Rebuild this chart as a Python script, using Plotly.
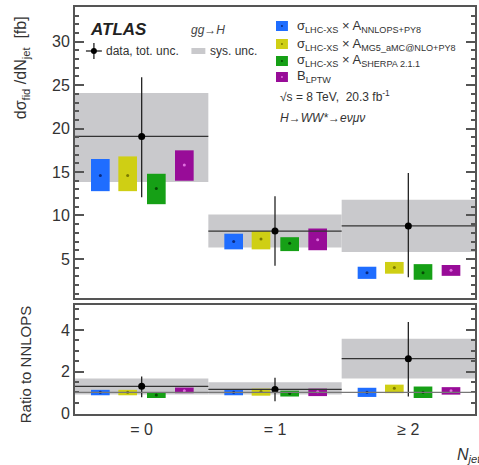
import plotly.graph_objects as go

# ---------------- data ----------------
bins = ["= 0", "= 1", "\u2265 2"]
bin_pos = [0.5, 1.5, 2.5]

data_val = [19.1, 8.2, 8.8]
data_err_up = [6.8, 4.0, 6.1]
data_err_dn = [7.0, 4.0, 5.9]
sys_lo = [13.85, 6.3, 5.8]
sys_hi = [24.1, 10.1, 11.8]

nnlops_lo = [12.8, 6.1, 2.7]
nnlops_c = [14.6, 7.0, 3.4]
nnlops_hi = [16.5, 7.9, 4.1]
mg5_lo = [12.8, 6.1, 3.3]
mg5_c = [14.6, 7.3, 4.0]
mg5_hi = [16.8, 8.2, 4.65]
sherpa_lo = [11.3, 5.9, 2.6]
sherpa_c = [13.1, 6.8, 3.4]
sherpa_hi = [14.8, 7.5, 4.4]
blptw_lo = [14.0, 6.0, 3.05]
blptw_c = [15.8, 7.2, 3.7]
blptw_hi = [17.5, 8.5, 4.3]

r_data_val = [1.29, 1.14, 2.62]
r_data_err_up = [0.47, 0.56, 1.76]
r_data_err_dn = [0.53, 0.57, 1.82]
r_sys_lo = [0.9, 0.9, 1.67]
r_sys_hi = [1.67, 1.48, 3.57]

r_nnlops_lo = [0.86, 0.86, 0.78]
r_nnlops_c = [1.0, 1.0, 1.0]
r_nnlops_hi = [1.12, 1.12, 1.22]
r_mg5_lo = [0.86, 0.84, 0.96]
r_mg5_c = [1.0, 1.04, 1.2]
r_mg5_hi = [1.12, 1.18, 1.37]
r_sherpa_lo = [0.73, 0.8, 0.73]
r_sherpa_c = [0.87, 0.95, 1.0]
r_sherpa_hi = [0.99, 1.08, 1.28]
r_blptw_lo = [0.96, 0.82, 0.89]
r_blptw_c = [1.08, 1.03, 1.08]
r_blptw_hi = [1.23, 1.18, 1.25]

ratio_ref = 1.0

# ---------------- styling ----------------
FONT = "Liberation Sans, Arial, sans-serif"
BLUE, BLUE_D = "#1f6dff", "#0a2a80"
YEL, YEL_D = "#cfcf14", "#7a7a00"
GRN, GRN_D = "#16a016", "#064a06"
PUR, PUR_D = "#980c98", "#e070e0"
GRAY = "#c9c9cc"
AX = "#555555"

preds = [
    (BLUE, BLUE_D, -0.31, nnlops_lo, nnlops_c, nnlops_hi, r_nnlops_lo, r_nnlops_c, r_nnlops_hi),
    (YEL, YEL_D, -0.105, mg5_lo, mg5_c, mg5_hi, r_mg5_lo, r_mg5_c, r_mg5_hi),
    (GRN, GRN_D, 0.11, sherpa_lo, sherpa_c, sherpa_hi, r_sherpa_lo, r_sherpa_c, r_sherpa_hi),
    (PUR, PUR_D, 0.32, blptw_lo, blptw_c, blptw_hi, r_blptw_lo, r_blptw_c, r_blptw_hi),
]
BOXW = 0.14

fig = go.Figure()

def add_panel(xa, ya, s_lo, s_hi, d_val, d_up, d_dn, ratio):
    fig.add_trace(go.Bar(x=bin_pos, base=s_lo, y=[h - l for l, h in zip(s_lo, s_hi)],
                         width=1.0, marker=dict(color=GRAY, line=dict(width=0)),
                         xaxis=xa, yaxis=ya, showlegend=False, hoverinfo="skip"))
    for col, dcol, off, lo, c, hi, rlo, rc, rhi in preds:
        L, C, H = (rlo, rc, rhi) if ratio else (lo, c, hi)
        xs = [b + off for b in bin_pos]
        fig.add_trace(go.Bar(x=xs, base=L, y=[h - l for l, h in zip(L, H)], width=BOXW,
                             marker=dict(color=col, line=dict(width=0)),
                             xaxis=xa, yaxis=ya, showlegend=False))
        fig.add_trace(go.Scatter(x=xs, y=C, mode="markers",
                                 marker=dict(color=dcol, size=3),
                                 xaxis=xa, yaxis=ya, showlegend=False))
    fig.add_trace(go.Scatter(x=bin_pos, y=d_val, mode="markers",
                             marker=dict(color="black", size=7),
                             error_y=dict(type="data", symmetric=False, array=d_up, arrayminus=d_dn,
                                          color="#222", thickness=1.3, width=0),
                             error_x=dict(type="data", array=[0.5] * 3, color="#333",
                                          thickness=1.3, width=0),
                             xaxis=xa, yaxis=ya, showlegend=False))

add_panel("x", "y", sys_lo, sys_hi, data_val, data_err_up, data_err_dn, False)
add_panel("x2", "y2", r_sys_lo, r_sys_hi, r_data_val, r_data_err_up, r_data_err_dn, True)

fig.add_shape(type="line", xref="x2", yref="y2", x0=0, x1=3, y0=ratio_ref, y1=ratio_ref,
              line=dict(color="#777", width=1.2), layer="above")

axis_common = dict(showline=True, linecolor=AX, linewidth=2, mirror="ticks", showgrid=False,
                   zeroline=False)
fig.update_layout(
    width=479, height=465, barmode="overlay",
    margin=dict(l=75, r=2, t=7, b=51),
    plot_bgcolor="white", paper_bgcolor="white",
    font=dict(family=FONT, color="#333", size=16),
    xaxis=dict(domain=[0, 1], range=[0, 3], showticklabels=False, ticks="",
               anchor="y", **axis_common),
    yaxis=dict(domain=[0.285, 1], range=[0.5, 34], tickvals=[5, 10, 15, 20, 25, 30],
               ticks="inside", ticklen=9, tickcolor=AX, tickwidth=1.5,
               tickfont=dict(size=16, color="#333"),
               minor=dict(dtick=1, ticks="inside", ticklen=4, tickcolor=AX),
               anchor="x", **axis_common),
    xaxis2=dict(domain=[0, 1], range=[0, 3], tickvals=bin_pos, ticktext=bins,
                ticks="", tickfont=dict(size=16, color="#333"), anchor="y2", **axis_common),
    yaxis2=dict(domain=[0, 0.268], range=[-0.04, 5.2], tickmode="linear", tick0=0, dtick=2,
                ticks="inside", ticklen=9, tickcolor=AX, tickwidth=1.5,
                tickfont=dict(size=16, color="#333"), ticklabeloverflow="allow",
                minor=dict(dtick=0.5, ticks="inside", ticklen=4, tickcolor=AX),
                anchor="x2", **axis_common),
)

# pixel -> paper helpers for annotation placement
def px(x):
    return (x - 75) / 402.0

def py(y):
    return (414 - y) / 407.0

ann = []
ann.append(dict(x=px(88), y=py(30), text="<b><i>ATLAS</i></b>", font=dict(size=17, color="#222"),
                xanchor="left", yanchor="middle"))
ann.append(dict(x=px(190), y=py(30), text="<i>gg\u2192H</i>", font=dict(size=12, color="#444"),
                xanchor="left", yanchor="middle"))
ann.append(dict(x=px(104), y=py(51), text="data, tot. unc.", font=dict(size=12, color="#333"),
                xanchor="left", yanchor="middle"))
ann.append(dict(x=px(209), y=py(51), text="sys. unc.", font=dict(size=12, color="#333"),
                xanchor="left", yanchor="middle"))
leg_rows = [
    (26, BLUE, BLUE_D, "\u03c3<sub>LHC-XS</sub> \u00d7 A<sub>NNLOPS+PY8</sub>"),
    (44, YEL, YEL_D, "\u03c3<sub>LHC-XS</sub> \u00d7 A<sub>MG5_aMC@NLO+PY8</sub>"),
    (61, GRN, GRN_D, "\u03c3<sub>LHC-XS</sub> \u00d7 A<sub>SHERPA 2.1.1</sub>"),
    (77, PUR, PUR_D, "B<sub>LPTW</sub>"),
]
shapes = []
for yy, col, dcol, txt in leg_rows:
    ann.append(dict(x=px(296), y=py(yy), text=txt, font=dict(size=13, color="#333"),
                    xanchor="left", yanchor="middle"))
    shapes.append(dict(type="rect", xref="paper", yref="paper", x0=px(277), x1=px(289),
                       y0=py(yy + 5), y1=py(yy - 5), fillcolor=col, line=dict(width=0)))
    shapes.append(dict(type="circle", xref="paper", yref="paper", x0=px(282), x1=px(284),
                       y0=py(yy + 1), y1=py(yy - 1), fillcolor=dcol, line=dict(width=0)))
ann.append(dict(x=px(279), y=py(96), text="\u221as = 8 TeV,  20.3 fb<sup>-1</sup>",
                font=dict(size=12, color="#333"), xanchor="left", yanchor="middle"))
ann.append(dict(x=px(279), y=py(118), text="<i>H\u2192WW*\u2192e\u03bd\u03bc\u03bd</i>",
                font=dict(size=12, color="#333"), xanchor="left", yanchor="middle"))
# legend symbols for data and sys
shapes.append(dict(type="rect", xref="paper", yref="paper", x0=px(192), x1=px(206),
                   y0=py(54), y1=py(48), fillcolor=GRAY, line=dict(width=0)))
shapes.append(dict(type="line", xref="paper", yref="paper", x0=px(86), x1=px(102),
                   y0=py(51), y1=py(51), line=dict(color="#222", width=1.3)))
shapes.append(dict(type="line", xref="paper", yref="paper", x0=px(94), x1=px(94),
                   y0=py(43), y1=py(59), line=dict(color="#222", width=1.3)))
shapes.append(dict(type="circle", xref="paper", yref="paper", x0=px(91), x1=px(97),
                   y0=py(54), y1=py(48), fillcolor="black", line=dict(width=0)))

# axis titles
ann.append(dict(x=px(22), y=py(68), text="d\u03c3<sub>fid</sub> /dN<sub>jet</sub>  [fb]",
                textangle=-90, font=dict(size=16, color="#333"), xanchor="center", yanchor="middle"))
ann.append(dict(x=px(25), y=py(364), text="Ratio to NNLOPS", textangle=-90,
                font=dict(size=15, color="#333"), xanchor="center", yanchor="middle"))
ann.append(dict(x=px(457), y=py(455), text="<i>N<sub>jet</sub></i>",
                font=dict(size=16, color="#333"), xanchor="left", yanchor="middle"))

for a in ann:
    a.update(xref="paper", yref="paper", showarrow=False)
fig.update_layout(annotations=ann, shapes=list(fig.layout.shapes) + shapes)

fig.write_html("out.html")
